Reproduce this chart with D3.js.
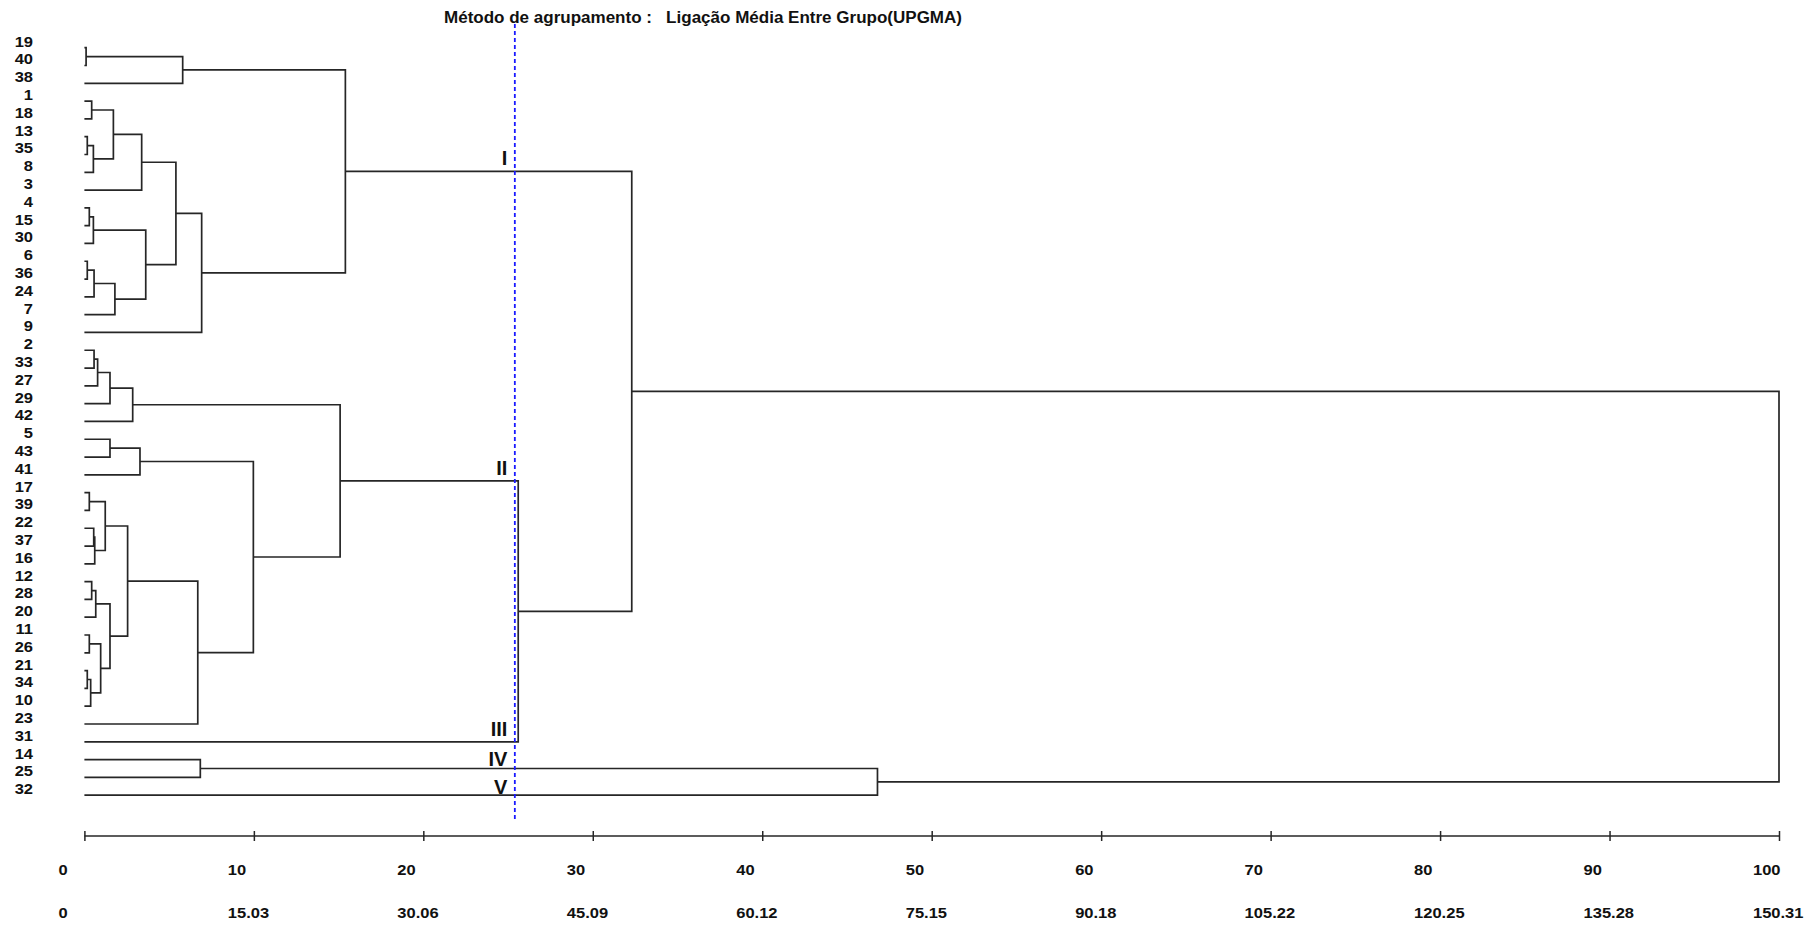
<!DOCTYPE html>
<html><head><meta charset="utf-8">
<script src="https://cdn.jsdelivr.net/npm/d3@7"></script>
<style>
body{margin:0;background:#fff}
svg{display:block;background:#fff}
text{font-family:"Liberation Sans",Arial,Helvetica,sans-serif;font-weight:bold;fill:#111}
</style>
</head><body>
<svg id="chart" width="1816" height="925"></svg>
<script>
// ---------------- DATA ----------------
const title = "Método de agrupamento :   Ligação Média Entre Grupo(UPGMA)";

const leaves = ["19","40","38","1","18","13","35","8","3","4","15","30","6","36","24","7","9",
  "2","33","27","29","42","5","43","41","17","39","22","37","16","12","28","20","11","26","21",
  "34","10","23","31","14","25","32"];

// merges: [left, right, height (% scale)]; strings = leaf labels, numbers = index of an earlier merge
const merges = [
  ["19","40",0.1],   // 0
  [0,"38",5.8],      // 1
  ["1","18",0.43],   // 2
  ["13","35",0.17],  // 3
  [3,"8",0.53],      // 4
  [2,4,1.71],        // 5
  [5,"3",3.38],      // 6
  ["4","15",0.29],   // 7
  [7,"30",0.53],     // 8
  ["6","36",0.17],   // 9
  [9,"24",0.57],     // 10
  [10,"7",1.8],      // 11
  [8,11,3.62],       // 12
  [6,12,5.4],        // 13
  [13,"9",6.92],     // 14
  [1,14,15.4],       // 15  group I
  ["2","33",0.57],   // 16
  [16,"27",0.78],    // 17
  [17,"29",1.51],    // 18
  [18,"42",2.85],    // 19
  ["5","43",1.51],   // 20
  [20,"41",3.28],    // 21
  ["17","39",0.29],  // 22
  ["22","37",0.55],  // 23
  [23,"16",0.61],    // 24
  [22,24,1.23],      // 25
  ["12","28",0.43],  // 26
  [26,"20",0.67],    // 27
  ["11","26",0.29],  // 28
  ["21","34",0.17],  // 29
  [29,"10",0.37],    // 30
  [28,30,0.96],      // 31
  [27,31,1.51],      // 32
  [25,32,2.55],      // 33
  [33,"23",6.69],    // 34
  [21,34,9.97],      // 35
  [19,35,15.09],     // 36  group II
  [36,"31",25.6],    // 37
  [15,37,32.3],      // 38
  ["14","25",6.84],  // 39
  [39,"32",46.8],    // 40
  [38,40,100]        // 41
];

const groupNames = ["I","II","III","IV","V"];
const groupNodes = [15, 36, "31", 39, "32"];   // node each group label belongs to

const cutHeight = 25.4;

const ticksPct  = [0,10,20,30,40,50,60,70,80,90,100];
const ticksDist = ["0","15.03","30.06","45.09","60.12","75.15","90.18","105.22","120.25","135.28","150.31"];

// ---------------- BUILD TREE ----------------
const built = [];
const ref = r => typeof r === "string" ? {name:r, h:0} : built[r];
merges.forEach((m,i) => built.push({id:i, h:m[2], children:[ref(m[0]), ref(m[1])]}));
const root = d3.hierarchy(built[built.length-1]);

// ---------------- SCALES ----------------
const x = d3.scaleLinear().domain([0,100]).range([84.4,1779]);
const y = d3.scalePoint().domain(leaves).range([47.7,795.2]);

root.eachAfter(d => {
  if (!d.children) d.yy = y(d.data.name);
  else d.yy = d3.mean(d.children, c => c.yy);
});

const svg = d3.select("#chart");
const sx = 1.18; // horizontal stretch of the labels in the reference

// title
svg.append("text")
  .attr("x", 444).attr("y", 23)
  .attr("font-size", 16)
  .attr("textLength", 518).attr("lengthAdjust","spacingAndGlyphs")
  .style("white-space","pre")
  .text(title);

// links
const links = svg.append("g").attr("fill","none").attr("stroke","#262626").attr("stroke-width",1.7);
root.each(d => {
  if (!d.children) return;
  const [a,b] = d.children;
  links.append("path").attr("d",
    `M${x(a.data.h)},${a.yy}H${x(d.data.h)}V${b.yy}H${x(b.data.h)}`);
});

// leaf labels
svg.append("g").selectAll("text").data(leaves).join("text")
  .attr("transform", d => `translate(33,${y(d)-1}) scale(${sx},1)`)
  .attr("text-anchor","end")
  .attr("font-size", 14)
  .text(d => d);

// cut line
svg.append("line")
  .attr("x1", x(cutHeight)).attr("x2", x(cutHeight))
  .attr("y1", 24).attr("y2", 822)
  .attr("stroke","#1a1aff").attr("stroke-width",1.8).attr("stroke-dasharray","4,3");

// group labels
const findY = r => {
  if (typeof r === "string") return y(r);
  let v; root.each(d => { if (d.children && d.data.id === r) v = d.yy; }); return v;
};
const groupDy = [-6,-5.5,-5.5,-3,-1.5];
svg.append("g").selectAll("text").data(groupNames).join("text")
  .attr("x", x(cutHeight) - 7.5)
  .attr("y", (d,i) => findY(groupNodes[i]) + groupDy[i])
  .attr("text-anchor","end")
  .attr("font-size", 20)
  .text(d => d);

// axis
const axisY = 836;
const ax = svg.append("g").attr("transform", `translate(0,${axisY})`)
  .call(d3.axisBottom(x).tickValues(ticksPct).tickSize(0).tickFormat(""));
ax.select(".domain").attr("stroke","#262626").attr("stroke-width",1.7).attr("d", `M${x(0)},0H${x(100)}`);
ax.selectAll(".tick line").attr("stroke","#262626").attr("stroke-width",1.5).attr("y1",-5).attr("y2",5);

svg.append("g").selectAll("text").data(ticksPct).join("text")
  .attr("transform", d => `translate(${x(d)-26},875) scale(${sx},1)`)
  .attr("font-size", 14)
  .text(d => d);

svg.append("g").selectAll("text").data(ticksDist).join("text")
  .attr("transform", (d,i) => `translate(${x(ticksPct[i])-26},918) scale(${sx},1)`)
  .attr("font-size", 14)
  .text(d => d);
</script>
</body></html>
